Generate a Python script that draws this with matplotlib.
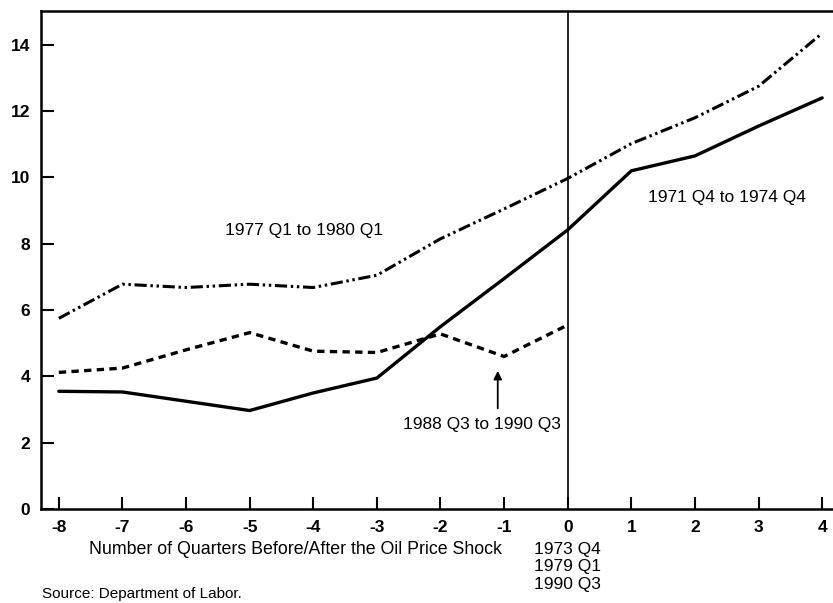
import matplotlib
matplotlib.use("Agg")
import matplotlib.pyplot as plt

plt.rcParams['font.family'] = ['Liberation Sans', 'DejaVu Sans']
plt.rcParams['axes.unicode_minus'] = False

quarters = [-8, -7, -6, -5, -4, -3, -2, -1, 0, 1, 2, 3, 4]
shock_1973 = [3.55, 3.53, 3.25, 2.97, 3.5, 3.95, 5.5, 6.95, 8.42, 10.2, 10.65, 11.55, 12.4]
shock_1979 = [5.75, 6.78, 6.68, 6.78, 6.68, 7.05, 8.15, 9.05, 9.97, 11.02, 11.8, 12.75, 14.35]
quarters_1990 = [-8, -7, -6, -5, -4, -3, -2, -1, 0]
shock_1990 = [4.12, 4.25, 4.8, 5.32, 4.76, 4.72, 5.28, 4.6, 5.55]

fig = plt.figure(figsize=(8.33, 6.03), dpi=100)
ax = fig.add_axes([41/833, 1 - 509/603, 1 - 41/833, 498/603])

ax.plot(quarters, shock_1973, color='black', lw=2.4, solid_capstyle='round')
ax.plot(quarters, shock_1979, color='black', lw=2.2, dashes=(4, 1.2, 0.8, 1.2, 0.8, 1.2))
ax.plot(quarters_1990, shock_1990, color='black', lw=2.4, dashes=(2.2, 1.6))

ax.axvline(0, color='black', lw=1.2)

ax.set_xlim(-8.28, 4.17)
ax.set_ylim(0, 15.02)
ax.set_xticks(quarters)
ax.set_yticks([0, 2, 4, 6, 8, 10, 12, 14])
ax.tick_params(axis='x', direction='in', length=9, width=1.5, pad=8, labelsize=12.5)
ax.tick_params(axis='y', direction='in', length=9, width=1.5, pad=8, labelsize=12.5)
for lab in ax.get_xticklabels() + ax.get_yticklabels():
    lab.set_fontweight('bold')
ax.spines['right'].set_visible(False)
for s in ['left', 'bottom', 'top']:
    ax.spines[s].set_linewidth(1.8)

ax.text(-4.15, 8.4, '1977 Q1 to 1980 Q1', ha='center', va='center', fontsize=12.5)
ax.text(2.5, 9.4, '1971 Q4 to 1974 Q4', ha='center', va='center', fontsize=12.5)
ax.text(-1.35, 2.55, '1988 Q3 to 1990 Q3', ha='center', va='center', fontsize=12.5)
ax.annotate('', xy=(-1.1, 4.25), xytext=(-1.1, 2.95),
            arrowprops=dict(arrowstyle='-|>', color='black', lw=1.3, mutation_scale=12))

fig.text(295/833, 1 - 549/603, 'Number of Quarters Before/After the Oil Price Shock',
         ha='center', va='center', fontsize=12.8)
fig.text(567/833, 1 - 567/603, '1973 Q4\n1979 Q1\n1990 Q3', ha='center', va='center',
         fontsize=12.5, linespacing=1.2)
fig.text(42/833, 1 - 594/603, 'Source: Department of Labor.', ha='left', va='center', fontsize=11)

fig.savefig('out.png', dpi=100)
